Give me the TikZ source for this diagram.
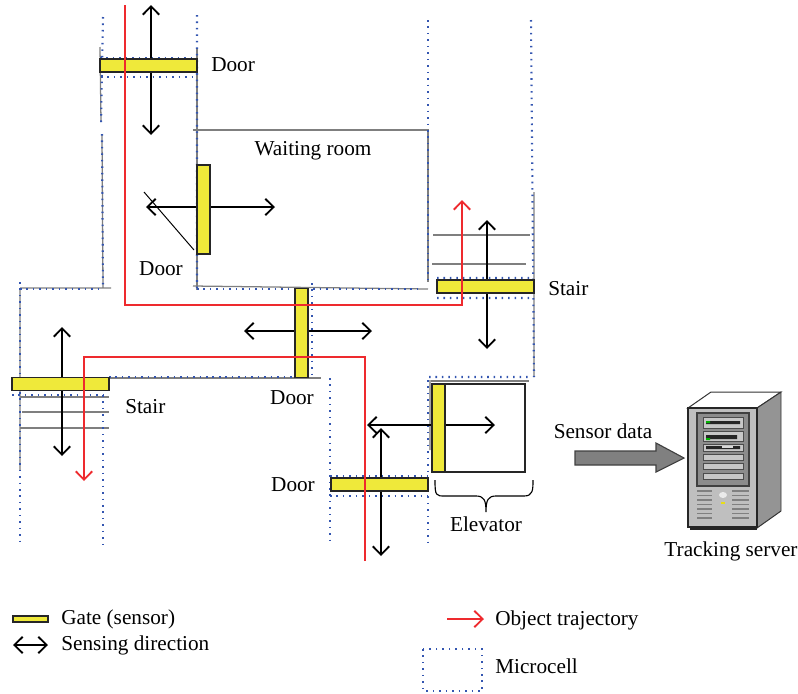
\documentclass[tikz,border=0pt]{standalone}
\usepackage{fontspec}
\setmainfont{Liberation Serif}
\usetikzlibrary{arrows.meta}
\definecolor{gateyellow}{HTML}{EFE93A}
\definecolor{cellblue}{HTML}{3355B0}
\definecolor{wallgray}{HTML}{7F7F7F}
\definecolor{trajred}{HTML}{EE2A2E}
\tikzset{
    gate/.style={draw=black!85,fill=gateyellow,line width=.9pt,inner sep=0pt,outer sep=0pt},
    hgate/.style={gate,minimum width=2.425cm,minimum height=.325cm},
    vgate/.style={gate,minimum width=.325cm,minimum height=2.225cm},
    sense/.style={line width=1.3pt,black,{Straight Barb[length=2.1mm,width=4.1mm]}-{Straight Barb[length=2.1mm,width=4.1mm]}},
    traj/.style={line width=1.3pt,trajred,-{Straight Barb[length=2.1mm,width=4.1mm]}},
    cell/.style={cellblue,line width=1.5pt,dash pattern=on 1.1pt off 3.5pt},
    wall/.style={wallgray,line width=.9pt},
    label/.style={inner sep=0pt,font=\fontsize{15.1}{17}\selectfont},
    bay/.style={draw=black!70,fill=black!22,line width=.6pt}
}
\begin{document}
\begin{tikzpicture}[x=.025cm,y=-.025cm]
    \useasboundingbox (0,0) rectangle (798,693);

    \draw[wall] (100,47) -- (101,122) (102,134) -- (103,288) (20,288) -- (111,288) (20,288) -- (20,470);
    \draw[wall] (197,48) -- (197,290) (193,130) -- (428,130) -- (428,282);
    \draw[wall] (193,286) -- (428,289) (534,192) -- (534,377);
    \draw[wall] (109,378) -- (321,378) (431,381) -- (529,381);
    \draw[wall] (433,235) -- (530,235) (432,264) -- (526,264);
    \draw[wall] (20,397) -- (109,397) (22,412) -- (109,412) (20,428) -- (109,428);
    \draw[line width=.7pt] (144,192) -- (194,250) (430,380) -- (430,450);

    \draw[cell] (103,17) -- (101,125) (102,134) -- (103,288) (197,15) -- (197,290);
    \draw[cell] (100,58) -- (197,58) (101,77) -- (197,77) (20,282) -- (20,542) (20,289) -- (103,289);
    \draw[cell] (428,20) -- (428,282) (197,289) -- (420,289) (295,288) -- (295,378) (312,283) -- (312,378);
    \draw[cell] (531,20) -- (534,377) (437,278) -- (534,278) (437,298) -- (532,298) (429,377) -- (531,377);
    \draw[cell] (109,377) -- (295,377) (12,395) -- (108,395) (103,395) -- (103,545);
    \draw[cell] (330,378) -- (330,543) (428,380) -- (428,546) (330,476) -- (428,476) (330,496) -- (428,496);

    \coordinate (doorAn) at (151,5);
    \coordinate (doorAs) at (151,135);
    \coordinate (doorBw) at (146,207);
    \coordinate (doorBe) at (275,207);
    \coordinate (doorCw) at (244,331);
    \coordinate (doorCe) at (372,331);
    \coordinate (stairAn) at (487,220);
    \coordinate (stairAs) at (487,349);
    \coordinate (stairBn) at (62,327);
    \coordinate (stairBs) at (62,456);
    \coordinate (doorDn) at (381,428);
    \coordinate (doorDs) at (381,556);
    \coordinate (liftw) at (367,425);
    \coordinate (lifte) at (495,425);

    \draw[black!85,line width=.8pt,fill=white] (432,384) rectangle (525,472);

    \draw[sense] (doorAn) -- (doorAs);
    \draw[sense] (doorBw) -- (doorBe);
    \draw[sense] (doorCw) -- (doorCe);
    \draw[sense] (stairAn) -- (stairAs);
    \draw[sense] (stairBn) -- (stairBs);
    \draw[sense] (doorDn) -- (doorDs);
    \draw[sense] (liftw) -- (lifte);

    \node[hgate] (gateA) at (148.5,65.5) {};
    \node[vgate] (gateB) at (203.5,209.5) {};
    \node[vgate] (gateC) at (301.5,333) {};
    \node[hgate] (gateD) at (485.5,286.5) {};
    \node[hgate] (gateE) at (60.5,384) {};
    \node[hgate] (gateF) at (379.5,484.5) {};
    \node[vgate,minimum height=2.2cm] (gateG) at (438.5,428) {};

    \coordinate (trajAa) at (125,5);
    \coordinate (trajAb) at (462,305);
    \coordinate (trajAc) at (462,200);
    \coordinate (trajBa) at (365,561);
    \coordinate (trajBb) at (84,357);
    \coordinate (trajBc) at (84,481);
    \draw[traj] (trajAa) |- (trajAb) -- (trajAc);
    \draw[traj] (trajBa) |- (trajBb) -- (trajBc);

    \draw[line width=.8pt] (435,480) .. controls (435,496) and (436,496) .. (445,496) -- (476,496) .. controls (484,496) and (486,500) .. (486,512) .. controls (486,500) and (488,496) .. (496,496) -- (524,496) .. controls (533,496) and (533,490) .. (533,480);

    \node[label,anchor=west] (doorAlabel) at (211,65) {Door};
    \node[label] (waiting) at (313,151) {Waiting room};
    \node[label] (doorBlabel) at (161,269) {Door};
    \node[label] (doorClabel) at (292,398) {Door};
    \node[label] (doorDlabel) at (293,485) {Door};
    \node[label,anchor=west] (stairAlabel) at (548,289) {Stair};
    \node[label,anchor=west] (stairBlabel) at (125,407) {Stair};
    \node[label] (elevator) at (486,524) {Elevator};
    \node[label] (sensordata) at (603,431) {Sensor data};
    \node[label] (tracking) at (731,551) {Tracking server};

    \draw[black!75,fill=black!50,line width=.8pt] (575,451) -- (656,451) -- (656,443) -- (684,458) -- (656,472) -- (656,465) -- (575,465) -- cycle;

    \draw[black!80,fill=white,line width=.7pt] (688,408) -- (711,392) -- (781,392) -- (757,408) -- cycle;
    \draw[black!80,fill=black!42,line width=.7pt] (757,408) -- (781,392) -- (781,511) -- (757,528) -- cycle;
    \draw[black!85,fill=black!25,line width=.9pt] (688,408) rectangle (757,527);
    \draw[black!85,line width=1.2pt] (690,529) -- (757,529);
    \draw[black!75,fill=black!45,line width=.8pt] (697,413) rectangle (749,486);
    \foreach \ya/\yb in {417/428,431/441,444/451,454/460,463/469,473/479}
        \draw[bay] (703,\ya) rectangle (743,\yb);
    \fill[black!85] (706,421) rectangle (740,424) (706,435) rectangle (737,439) (706,446) rectangle (740,449);
    \fill[white!85!black] (722,446) rectangle (733,448);
    \fill[green!70!black] (706,421) rectangle (710,423) (706,438) rectangle (710,440);
    \foreach \y in {491,495.5,...,522} {
        \draw[black!50,line width=1.1pt] (697,\y) -- (712,\y);
        \draw[black!50,line width=1.1pt] (732,\y) -- (749,\y);
    }
    \fill[black!8] (723,495) ellipse (4 and 3);
    \fill[yellow!90!black] (721,502) rectangle (725,504);

    \node[gate,minimum width=.875cm,minimum height=.15cm,anchor=west] (keygate) at (13,619) {};
    \coordinate (keysensea) at (13,645);
    \coordinate (keysenseb) at (48,645);
    \draw[sense] (keysensea) -- (keysenseb);
    \coordinate (keytraja) at (447,619);
    \coordinate (keytrajb) at (484,619);
    \draw[traj] (keytraja) -- (keytrajb);
    \draw[cell] (423,649) rectangle (482,691);
    \node[label,anchor=west] (keygatelabel) at (61,619) {Gate (sensor)};
    \node[label,anchor=west] (keysenselabel) at (61,645) {Sensing direction};
    \node[label,anchor=west] (keytrajlabel) at (495,620) {Object trajectory};
    \node[label,anchor=west] (keycelllabel) at (495,666) {Microcell};
\end{tikzpicture}
\end{document}
